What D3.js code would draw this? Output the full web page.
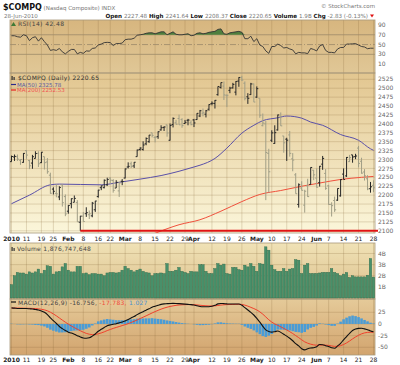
<!DOCTYPE html>
<html>
<head>
<meta charset="utf-8">
<script src="https://cdn.jsdelivr.net/npm/d3@7"></script>
<style>
  body { margin: 0; background: #fff; }
  svg { display: block; font-family: "DejaVu Sans", sans-serif; }
</style>
</head>
<body>
<script>
// ---- data ----
const tradingDays = [
  [1, [4,5,6,7,8,11,12,13,14,15,19,20,21,22,25,26,27,28,29]],
  [2, [1,2,3,4,5,8,9,10,11,12,16,17,18,19,22,23,24,25,26]],
  [3, [1,2,3,4,5,8,9,10,11,12,15,16,17,18,19,22,23,24,25,26,29,30,31]],
  [4, [1,5,6,7,8,9,12,13,14,15,16,19,20,21,22,23,26,27,28,29,30]],
  [5, [3,4,5,6,7,10,11,12,13,14,17,18,19,20,21,24,25,26,27,28]],
  [6, [1,2,3,4,7,8,9,10,11,14,15,16,17,18,21,22,23,24,25,28]]
];

const tickKeys = ["1-4","1-11","1-19","1-25","2-1","2-8","2-16","2-22","3-1","3-8","3-15","3-22","3-29",
  "4-1","4-12","4-19","4-26","5-3","5-10","5-17","5-24","6-1","6-7","6-14","6-21","6-28"];
const tickLabels = ["2010","11","19","25","Feb","8","16","22","Mar","8","15","22","29",
  "Apr","12","19","26","May","10","17","24","Jun","7","14","21","28"];

const opens = [2294,2307,2308,2298,2292,2325,2297,2290,2303,2317,2291,2308,2293,2256,2217,2205,2195,2229,2196,
  2155,2176,2180,2179,2124,2141,2148,2145,2142,2159,2196,2221,2221,2229,2248,2241,2220,2212,2239,
  2248,2279,2288,2282,2308,2328,2328,2344,2350,2375,2362,2364,2383,2390,2397,2354,2398,2403,2415,2412,2401,2410,2403,
  2411,2412,2422,2430,2427,2441,2457,2457,2482,2502,2506,2480,2494,2501,2489,2520,2530,2514,2476,2482,2512,
  2475,2472,2395,2400,2317,2354,2345,2383,2419,2366,2357,2369,2302,2257,2174,2220,2172,2226,2230,2270,
  2248,2235,2287,2261,2226,2174,2185,2186,2198,2259,2254,2294,2313,2308,2332,2295,2265,2246,2218,2227.48];
const highs = [2311,2314,2314,2301,2318,2326,2299,2313,2323,2323,2321,2308,2304,2263,2222,2231,2225,2230,2202,
  2172,2191,2199,2186,2142,2153,2166,2157,2181,2184,2215,2227,2244,2249,2250,2245,2242,2238,2245,
  2275,2292,2294,2293,2328,2334,2351,2362,2369,2375,2366,2379,2396,2393,2398,2401,2418,2411,2426,2416,2411,2414,2410,
  2414,2430,2439,2443,2439,2455,2463,2467,2505,2516,2519,2483,2504,2515,2520,2531,2535,2519,2486,2515,2513,
  2505,2472,2429,2408,2330,2382,2396,2426,2432,2366,2361,2380,2318,2262,2233,2239,2215,2246,2278,2271,
  2275,2282,2310,2273,2229,2180,2196,2219,2245,2275,2307,2313,2313,2316,2338,2305,2273,2256,2237,2241.64];
const lows = [2294,2296,2296,2285,2291,2302,2273,2274,2303,2279,2290,2272,2260,2204,2202,2194,2186,2168,2141,
  2148,2163,2180,2125,2100,2126,2139,2133,2138,2153,2193,2214,2219,2226,2232,2207,2220,2195,2228,
  2247,2275,2276,2276,2308,2325,2325,2340,2347,2362,2348,2358,2381,2380,2364,2353,2390,2398,2397,2389,2400,2396,2396,
  2391,2411,2419,2421,2418,2437,2452,2443,2479,2499,2467,2447,2486,2499,2480,2504,2520,2466,2456,2481,2461,
  2473,2417,2393,2186,2207,2349,2344,2381,2394,2319,2296,2308,2267,2204,2165,2213,2151,2195,2230,2242,
  2221,2224,2271,2215,2173,2140,2153,2184,2196,2244,2251,2293,2291,2301,2278,2260,2241,2214,2207,2208.37];
const closes = [2308.42,2308.71,2301.09,2300.05,2317.17,2312.41,2282.31,2307.90,2316.74,2287.99,2320.40,2291.25,2265.70,2205.29,2210.80,2203.73,2221.41,2179.00,2147.35,
  2171.20,2190.06,2190.91,2125.43,2141.12,2126.05,2150.87,2147.87,2177.41,2183.53,2214.19,2226.29,2241.71,2243.87,2242.03,2213.44,2235.90,2234.22,2238.26,
  2273.57,2280.79,2280.68,2292.31,2326.35,2332.21,2340.68,2358.95,2368.46,2367.66,2362.21,2378.01,2389.09,2391.28,2374.41,2395.40,2415.24,2398.76,2397.41,2395.13,2404.36,2410.69,2397.96,
  2402.58,2429.53,2436.81,2431.16,2436.81,2454.05,2457.87,2465.99,2504.86,2515.69,2481.26,2480.11,2500.31,2510.69,2519.07,2530.15,2522.95,2471.47,2471.74,2511.92,2461.19,
  2498.74,2424.25,2402.29,2319.64,2265.64,2374.67,2375.31,2425.02,2394.36,2346.85,2354.23,2317.26,2298.37,2204.01,2229.04,2213.55,2210.95,2195.88,2277.68,2257.04,
  2222.33,2281.07,2303.03,2219.17,2173.90,2170.57,2158.85,2218.71,2243.60,2243.96,2305.93,2305.22,2307.16,2309.80,2289.09,2261.80,2254.23,2217.42,2223.48,2220.65];

// volume in billions of shares
const volumes = [1.2,2.0,2.3,2.25,2.25,2.15,2.35,2.25,2.35,2.6,2.2,2.5,2.9,2.85,2.15,2.35,2.4,2.8,3.1,
  2.5,2.35,2.35,2.85,2.85,2.2,2.25,2.1,2.2,2.2,2.15,2.15,2.0,2.25,2.3,2.3,2.25,2.3,2.5,
  2.85,2.65,2.5,2.35,2.5,2.6,2.4,2.3,2.25,2.0,2.2,2.2,2.25,2.2,3.1,2.4,2.4,2.5,2.75,2.4,2.3,2.2,2.4,
  2.35,2.35,3.0,3.0,2.4,2.2,2.2,2.65,3.1,2.95,3.05,2.2,2.15,2.75,2.75,2.55,2.5,2.95,2.8,3.1,2.85,
  2.4,3.1,3.05,4.6,4.3,2.95,2.55,2.4,2.4,2.65,2.4,2.6,2.65,3.45,3.4,2.2,2.95,3.1,2.2,2.2,
  2.2,2.25,2.3,2.3,2.3,2.65,2.3,2.2,2.0,2.15,2.3,1.85,2.0,1.9,1.9,1.9,1.9,2.05,3.55,1.88];

const rsi = [68,68,66,65,70,68,58,64,66,57,64,56,49,38,39.5,38,42,35,31,
  36,40,40,31,34,32,37,36.5,42,43,49,51,54,54.5,54,48,52,52,53,
  60,61,61,63,69,70,71,73,74,74,72,74,76,76,70,73,76,71,70,70,71,72,68,
  69,73,74,72,73,75,76,77,81,82,72,71,74,75,76,77,75,62,62,67,56,
  62,49,46,37,32,46,46,51,48,43,44,41,39,31,34,33,33,31.5,42,40,
  37,47,50,38,34,34,33,41,44,44,51,51,51.5,52,49,46,45,41.5,42.5,42.48];

const macd = [34.5,34,33.3,33,33,33,32.5,32,31,30,28,25,20,13,7,1,-5.5,-10,-14,
  -17.5,-19.5,-22,-25,-28,-30,-30.5,-29.5,-26,-21.5,-15.5,-11.5,-7.5,-3.6,-2,-0.5,0.6,2.5,4.4,
  6.5,9.5,13,16,20,23.5,26.3,29.5,32.5,36,38,40,42,43,43.5,44,44.2,44,43.5,43,42.5,42,41.5,
  40.5,39,37.5,37,37,37,38,40,43,44,43.5,43,42.7,42.7,42.7,42.7,40,35,30,25,19.2,
  12,4,-5,-12.8,-16,-17.5,-16.5,-15,-18,-22,-26,-30.5,-36,-42,-47,-53,-55.6,-53,-51.5,-51,
  -49,-44,-44.5,-46.5,-48.5,-51,-52,-47,-41.5,-34,-27,-20,-14,-11,-9.5,-9.3,-10.5,-12.5,-15,-16.756];
const signal = [34,34.1,34.1,34,33.8,33.6,33.5,33.3,33,32.4,31.5,30.2,28.2,25.2,21.5,17.4,12.8,8.2,3.8,
  -0.5,-4.3,-7.8,-11.2,-14.6,-17.6,-20.2,-22,-22.8,-22.5,-21.1,-19.2,-16.9,-14.2,-11.8,-9.5,-7.5,-5.5,-3.5,
  -1.5,0.7,3.2,5.8,8.6,11.6,14.5,17.5,20.5,23.6,26.5,29.2,31.8,34,35.9,37.5,38.8,39.9,40.6,41.1,41.4,41.5,41.5,
  41.3,40.8,40.1,39.5,39,38.6,38.5,38.8,39.6,40.5,41.1,41.5,41.7,41.9,42.1,42.2,41.8,40.4,38.2,35.6,33,
  30,26,21,15,9,4,0,-3,-6,-9.5,-12.8,-16.5,-20.5,-24.9,-29.3,-34,-38.3,-41.2,-43.3,-44.8,
  -45.6,-45.3,-45.1,-45.4,-46,-47,-48,-47.8,-46.5,-44,-40.6,-36.5,-32,-27.8,-24.2,-21.2,-19.1,-18.1,-17.7,-17.783];
const histogram = [0.5,-0.1,-0.8,-1,-0.8,-0.6,-1,-1.3,-2,-2.4,-3.5,-5.2,-8.2,-12.2,-14.5,-16.4,-18.3,-18.2,-17.8,
  -17,-15.2,-14.2,-13.8,-13.4,-12.4,-10.3,-7.5,-3.2,1,5.6,7.7,9.4,10.6,9.8,9,8.1,8,7.9,
  8,8.8,9.8,10.2,11.4,11.9,11.8,12,12,12.4,11.5,10.8,10.2,9,7.6,6.5,5.4,4.1,2.9,1.9,1.1,0.5,0,
  -0.8,-1.8,-2.6,-2.5,-2,-1.6,-0.5,1.2,3.4,3.5,2.4,1.5,1,0.8,0.6,0.5,-1.8,-5.4,-8.2,-10.6,-13.8,
  -18,-22,-26,-27.8,-25,-21.5,-16.5,-12,-12,-12.5,-13.2,-14,-15.5,-17.1,-17.7,-19,-17.3,-11.8,-8.2,-6.2,
  -3.4,1.3,0.6,-1.1,-2.5,-4,-4,0.8,5,10,13.6,16.5,18,16.8,14.7,11.9,8.6,5.6,2.7,1.027];

// moving averages: [bar index, value]
const ma50 = [[0,2176],[6,2200],[13,2229],[16,2231],[30,2229],[36,2236],[43,2245],[50,2255],[56,2267],[61,2279],
  [63,2284],[68,2303],[72,2332],[77,2374],[81,2396],[84,2409],[89,2417],[92,2422],[97,2416],[100,2405],
  [104,2396],[110,2370],[116,2354],[120,2330],[121,2325.78]];
const ma200 = [[48,2093],[56,2117],[63,2131],[70,2155],[77,2182],[83,2202],[90,2213],[97,2225],[103,2234],
  [110,2244],[117,2250],[121,2252.53]];
const supportLine = { fromIndex: 23, level: 2100.2 };

const priceTicks = d3.range(2100, 2526, 25);
const rsiTicks = [90, 70, 50, 30, 10];
const volTicks = [4, 3, 2, 1];
const macdTicks = [25, 0, -25, -50];

// ---- layout ----
const W = 400, H = 365, L = 10, R = 375;
const rsiP = {top: 20, bottom: 73}, pxP = {top: 73, bottom: 233},
      volP = {top: 243, bottom: 299}, macdP = {top: 299, bottom: 355};

const dates = [];
tradingDays.forEach(([m, ds]) => ds.forEach(d => dates.push(m + "-" + d)));
const bars = dates.map((k, i) => ({k, i, o: opens[i], h: highs[i], l: lows[i], c: closes[i],
  v: volumes[i], r: rsi[i], m: macd[i], s: signal[i], hh: histogram[i]}));

const x = d3.scaleBand().domain(dates).range([L, R]);
const bw = x.bandwidth();
const cx = k => x(k) + bw / 2;
const cxi = i => cx(dates[Math.round(i)]);

const yRsi = d3.scaleLinear().domain([0, 100]).range([69, 20.1]);
const yPx = d3.scaleLinear().domain([2100, 2525]).range([230.8, 79.3]);
const yVol = d3.scaleLinear().domain([0, 4]).range([298, 253.5]);
const yMacd = d3.scaleLinear().domain([-50, 25]).range([347.3, 312.3]);

const svg = d3.select("body").append("svg").attr("width", W).attr("height", H);
const defs = svg.append("defs");

function grad(id, c0, c1) {
  const g = defs.append("linearGradient").attr("id", id).attr("x1", 0).attr("y1", 0).attr("x2", 0).attr("y2", 1);
  g.append("stop").attr("offset", "0%").attr("stop-color", c0);
  g.append("stop").attr("offset", "100%").attr("stop-color", c1);
}
grad("gRsi", "#d7b67f", "#e0c796");
grad("gPx", "#e2c690", "#fbf6da");
grad("gVol", "#f0e2b6", "#dbbe8a");
grad("gMacd", "#e5ca99", "#d2a46e");

function clip(id, p) {
  defs.append("clipPath").attr("id", id).append("rect")
    .attr("x", L).attr("y", p.top).attr("width", R - L).attr("height", p.bottom - p.top);
}
clip("cRsi", rsiP); clip("cPx", pxP); clip("cVol", volP); clip("cMacd", macdP);

const panels = [["gRsi", rsiP], ["gPx", pxP], ["gVol", volP], ["gMacd", macdP]];
panels.forEach(([g, p]) => {
  svg.append("rect").attr("x", L).attr("y", p.top).attr("width", R - L).attr("height", p.bottom - p.top)
    .attr("fill", "url(#" + g + ")");
});

// grid
const gridCol = "rgba(130,100,55,0.28)";
panels.forEach(([g, p]) => {
  svg.append("g").selectAll("line").data(tickKeys).join("line")
    .attr("x1", d => cx(d)).attr("x2", d => cx(d)).attr("y1", p.top).attr("y2", p.bottom)
    .attr("stroke", gridCol).attr("stroke-width", 0.8);
});
function hgrid(vals, y, col) {
  svg.append("g").selectAll("line").data(vals).join("line")
    .attr("x1", L).attr("x2", R).attr("y1", d => y(d)).attr("y2", d => y(d))
    .attr("stroke", col || gridCol).attr("stroke-width", 0.8);
}
hgrid(priceTicks, yPx);
hgrid(volTicks, yVol);
hgrid(macdTicks, yMacd);
hgrid([70, 30], yRsi, "#9c8a6a");
svg.append("line").attr("x1", L).attr("x2", R).attr("y1", yRsi(50)).attr("y2", yRsi(50))
  .attr("stroke", "#9c8a6a").attr("stroke-width", 0.8).attr("stroke-dasharray", "6,2,1,2");

// panel borders
panels.forEach(([g, p]) => {
  svg.append("rect").attr("x", L).attr("y", p.top).attr("width", R - L).attr("height", p.bottom - p.top)
    .attr("fill", "none").attr("stroke", "#a8987a").attr("stroke-width", 0.8);
});

// ---- RSI ----
const gR = svg.append("g").attr("clip-path", "url(#cRsi)");
gR.append("path").datum(bars)
  .attr("d", d3.area().x(d => cx(d.k)).y0(yRsi(70)).y1(d => yRsi(Math.max(70, d.r))))
  .attr("fill", "#4f7f3e");
gR.append("path").datum(bars)
  .attr("d", d3.line().x(d => cx(d.k)).y(d => yRsi(d.r)))
  .attr("fill", "none").attr("stroke", "#333").attr("stroke-width", 0.9);

// ---- price ----
const gP = svg.append("g").attr("clip-path", "url(#cPx)");
gP.append("path").datum(ma200)
  .attr("d", d3.line().curve(d3.curveMonotoneX).x(d => cxi(d[0])).y(d => yPx(d[1])))
  .attr("fill", "none").attr("stroke", "#f0503c").attr("stroke-width", 1);
gP.append("path").datum(ma50)
  .attr("d", d3.line().curve(d3.curveMonotoneX).x(d => cxi(d[0])).y(d => yPx(d[1])))
  .attr("fill", "none").attr("stroke", "#5a50a8").attr("stroke-width", 1);

const ohlc = gP.append("g").selectAll("g").data(bars).join("g")
  .attr("stroke", d => (d.i === 0 || d.c >= closes[d.i - 1]) ? "#262626" : "#a09e86")
  .attr("stroke-width", 1);
ohlc.append("line").attr("x1", d => cx(d.k)).attr("x2", d => cx(d.k))
  .attr("y1", d => yPx(d.h)).attr("y2", d => yPx(d.l));
ohlc.append("line").attr("x1", d => cx(d.k) - 1.5).attr("x2", d => cx(d.k))
  .attr("y1", d => yPx(d.o)).attr("y2", d => yPx(d.o));
ohlc.append("line").attr("x1", d => cx(d.k)).attr("x2", d => cx(d.k) + 1.5)
  .attr("y1", d => yPx(d.c)).attr("y2", d => yPx(d.c));

svg.append("line")
  .attr("x1", cxi(supportLine.fromIndex)).attr("x2", R + 3)
  .attr("y1", yPx(supportLine.level)).attr("y2", yPx(supportLine.level))
  .attr("stroke", "#e01414").attr("stroke-width", 1.8);

// ---- volume ----
svg.append("g").attr("clip-path", "url(#cVol)").selectAll("rect").data(bars).join("rect")
  .attr("x", d => x(d.k) + 0.2).attr("width", bw - 0.5)
  .attr("y", d => yVol(d.v)).attr("height", d => yVol(0) - yVol(d.v))
  .attr("fill", "#48906a").attr("stroke", "#2f6a4b").attr("stroke-width", 0.4);

// ---- MACD ----
const gM = svg.append("g").attr("clip-path", "url(#cMacd)");
gM.selectAll("rect").data(bars).join("rect")
  .attr("x", d => x(d.k) + 0.2).attr("width", bw - 0.4)
  .attr("y", d => yMacd(Math.max(0, d.hh))).attr("height", d => Math.abs(yMacd(d.hh) - yMacd(0)))
  .attr("fill", "#4a9cd6");
gM.append("path").datum(bars)
  .attr("d", d3.line().curve(d3.curveMonotoneX).x(d => cx(d.k)).y(d => yMacd(d.s)))
  .attr("fill", "none").attr("stroke", "#f0402c").attr("stroke-width", 1);
gM.append("path").datum(bars)
  .attr("d", d3.line().curve(d3.curveMonotoneX).x(d => cx(d.k)).y(d => yMacd(d.m)))
  .attr("fill", "none").attr("stroke", "#111").attr("stroke-width", 1.1);

// ---- right axis labels ----
function rlabels(vals, y, fmt) {
  svg.append("g").selectAll("text").data(vals).join("text")
    .attr("x", R + 3).attr("y", d => y(d)).attr("dy", "0.35em")
    .attr("font-size", 6).attr("fill", "#666").text(fmt || (d => d));
}
rlabels(rsiTicks, yRsi);
rlabels(priceTicks, yPx);
rlabels(volTicks, yVol, d => d + "B");
rlabels(macdTicks, yMacd);

// ---- date labels ----
[240.5, 361.5].forEach(yy => {
  svg.append("g").selectAll("text").data(tickKeys).join("text")
    .attr("x", d => cx(d)).attr("y", yy).attr("text-anchor", "middle")
    .attr("font-size", 6).attr("fill", "#222")
    .attr("font-weight", (d, i) => isNaN(+tickLabels[i]) || tickLabels[i] === "2010" ? "bold" : "normal")
    .text((d, i) => tickLabels[i]);
});

// ---- header ----
const hdr = svg.append("text").attr("x", 3).attr("y", 10);
hdr.append("tspan").attr("font-size", 8).attr("font-weight", "bold").attr("fill", "#111").text("$COMPQ");
hdr.append("tspan").attr("font-size", 5.5).attr("fill", "#777").text(" (Nasdaq Composite) INDX");
svg.append("text").attr("x", R).attr("y", 7.5).attr("text-anchor", "end")
  .attr("font-size", 5.5).attr("fill", "#777").text("\u00a9 StockCharts.com");
svg.append("text").attr("x", 4).attr("y", 17.5).attr("font-size", 5.5).attr("fill", "#777").text("28-Jun-2010");

const quote = [["Open", "2227.48"], ["High", "2241.64"], ["Low", "2208.37"], ["Close", "2220.65"],
  ["Volume", "1.9B"], ["Chg", "-2.83 (-0.13%)"]];
const qt = svg.append("text").attr("x", 368).attr("y", 17.5).attr("text-anchor", "end").attr("font-size", 5.6);
quote.forEach(([k, v]) => {
  qt.append("tspan").attr("font-weight", "bold").attr("fill", "#111").text(k + " ");
  qt.append("tspan").attr("fill", "#777").text(v + "  ");
});
svg.append("path").attr("d", "M370,14.5 L374,14.5 L372,17.5 Z").attr("fill", "#e01010");

// panel legends
function icon(xx, yy, col) {
  svg.append("rect").attr("x", xx).attr("y", yy - 4).attr("width", 1.2).attr("height", 4).attr("fill", col);
  svg.append("rect").attr("x", xx + 2).attr("y", yy - 3).attr("width", 1.2).attr("height", 3).attr("fill", col);
}
svg.append("path").attr("d", "M11,26 L13.5,22 L16,26 Z").attr("fill", "#3f7a36");
svg.append("text").attr("x", 18).attr("y", 26).attr("font-size", 6).attr("fill", "#444")
  .attr("letter-spacing", 0.4).text("RSI(14) 42.48");

icon(11.5, 80, "#333");
svg.append("text").attr("x", 18).attr("y", 80).attr("font-size", 6).attr("fill", "#333")
  .attr("letter-spacing", 0.3).text("$COMPQ (Daily) 2220.65");
svg.append("line").attr("x1", 11).attr("x2", 16).attr("y1", 84.5).attr("y2", 84.5).attr("stroke", "#2a2a8a").attr("stroke-width", 1.2);
svg.append("text").attr("x", 17).attr("y", 86.5).attr("font-size", 5.5).attr("fill", "#5a5aa0").text("MA(50) 2325.78");
svg.append("line").attr("x1", 11).attr("x2", 16).attr("y1", 90).attr("y2", 90).attr("stroke", "#e82020").attr("stroke-width", 1.2);
svg.append("text").attr("x", 17).attr("y", 92).attr("font-size", 5.5).attr("fill", "#f05050").text("MA(200) 2252.53");

icon(11.5, 251, "#333");
svg.append("text").attr("x", 17).attr("y", 251).attr("font-size", 6).attr("fill", "#444")
  .attr("letter-spacing", 0.3).text("Volume 1,876,747,648");

svg.append("line").attr("x1", 11).attr("x2", 16).attr("y1", 302).attr("y2", 302).attr("stroke", "#111").attr("stroke-width", 1.2);
const ml = svg.append("text").attr("x", 18).attr("y", 304.5).attr("font-size", 6).attr("letter-spacing", 0.3);
ml.append("tspan").attr("fill", "#444").text("MACD(12,26,9) -16.756,");
ml.append("tspan").attr("fill", "#f04a3a").text(" -17.783,");
ml.append("tspan").attr("fill", "#4a8fcf").text(" 1.027");
</script>
</body>
</html>
